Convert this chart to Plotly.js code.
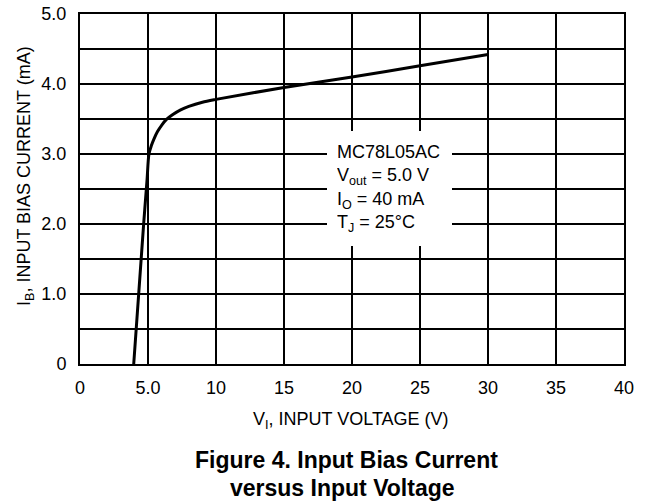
<!DOCTYPE html>
<html>
<head>
<meta charset="utf-8">
<script src="https://cdn.plot.ly/plotly-3.0.1.min.js"></script>
<style>html,body{margin:0;padding:0;background:#fff;}#chart{width:649px;height:502px;}</style>
</head>
<body>
<div id="chart"></div>
<script>
// Input voltage (V) and input bias current (mA)
const inputVoltage = [3.95, 4.68, 4.93, 5.07, 5.25, 5.45, 5.7, 6.0, 6.34, 6.8, 7.4, 8.0, 9.0, 10, 15, 20, 25, 30];
const biasCurrent  = [0.0, 2.0, 2.63, 3.0, 3.12, 3.22, 3.32, 3.41, 3.49, 3.56, 3.63, 3.68, 3.74, 3.78, 3.95, 4.10, 4.26, 4.42];

const xTickVals = [0, 5, 10, 15, 20, 25, 30, 35, 40];
const xTickText = ["0", "5.0", "10", "15", "20", "25", "30", "35", "40"];
const yTickVals = [0, 0.5, 1, 1.5, 2, 2.5, 3, 3.5, 4, 4.5, 5];
const yTickText = ["0", "", "1.0", "", "2.0", "", "3.0", "", "4.0", "", "5.0"];

const FONT = "Liberation Sans, Arial, Helvetica, sans-serif";
const W = 649, H = 502, L = 80, R = 25, T = 14, B = 138;
const pw = W - L - R, ph = H - T - B;
function px2paperX(p) { return (p - L) / pw; }
function px2paperY(p) { return (H - B - p) / ph; }

const trace = {
  x: inputVoltage, y: biasCurrent, type: "scatter", mode: "lines",
  line: { color: "#000", width: 3, shape: "spline", smoothing: 0.8 },
  hoverinfo: "skip"
};

const layout = {
  width: W, height: H,
  margin: { l: L, r: R, t: T, b: B, pad: 0 },
  paper_bgcolor: "#fff", plot_bgcolor: "#fff",
  showlegend: false,
  font: { family: FONT, size: 18, color: "#000" },
  xaxis: {
    range: [0, 40], tickmode: "array", tickvals: xTickVals, ticktext: xTickText,
    showgrid: true, gridcolor: "#000", gridwidth: 1.5,
    showline: true, linecolor: "#000", linewidth: 2, mirror: true,
    ticks: "", ticklabelstandoff: 6, zeroline: false, fixedrange: true,
    tickfont: { family: FONT, size: 18, color: "#000" }
  },
  yaxis: {
    range: [0, 5], tickmode: "array", tickvals: yTickVals, ticktext: yTickText,
    showgrid: true, gridcolor: "#000", gridwidth: 1.5,
    showline: true, linecolor: "#000", linewidth: 2, mirror: true,
    ticks: "", ticklabelstandoff: 8, zeroline: false, fixedrange: true,
    tickfont: { family: FONT, size: 18, color: "#000" }
  },
  annotations: [
    {
      xref: "x", yref: "y", x: 22.76, y: 2.507, xanchor: "center", yanchor: "middle",
      text: "MC78L05AC<br>V<sub>out</sub> = 5.0 V<br>I<sub>O</sub> = 40 mA<br>T<sub>J</sub> = 25°C",
      align: "left", showarrow: false, bgcolor: "#fff", borderpad: 10, borderwidth: 0,
      width: 105, height: 95,
      font: { family: FONT, size: 18, color: "#000" }
    },
    {
      xref: "paper", yref: "paper", x: px2paperX(25), y: px2paperY(176),
      xanchor: "center", yanchor: "middle", textangle: -90, showarrow: false,
      text: "I<sub>B</sub>, INPUT BIAS CURRENT (mA)",
      font: { family: FONT, size: 18, color: "#000" }
    },
    {
      xref: "paper", yref: "paper", x: px2paperX(351), y: px2paperY(420),
      xanchor: "center", yanchor: "middle", showarrow: false,
      text: "V<sub>I</sub>, INPUT VOLTAGE (V)",
      font: { family: FONT, size: 18, color: "#000" }
    },
    {
      xref: "paper", yref: "paper", x: px2paperX(346), y: px2paperY(460),
      xanchor: "center", yanchor: "middle", showarrow: false,
      text: "<b>Figure 4. Input Bias Current</b>",
      font: { family: FONT, size: 23, color: "#000" }
    },
    {
      xref: "paper", yref: "paper", x: px2paperX(342), y: px2paperY(488),
      xanchor: "center", yanchor: "middle", showarrow: false,
      text: "<b>versus Input Voltage</b>",
      font: { family: FONT, size: 23, color: "#000" }
    }
  ]
};

Plotly.newPlot("chart", [trace], layout, { staticPlot: true, displayModeBar: false });
</script>
</body>
</html>
